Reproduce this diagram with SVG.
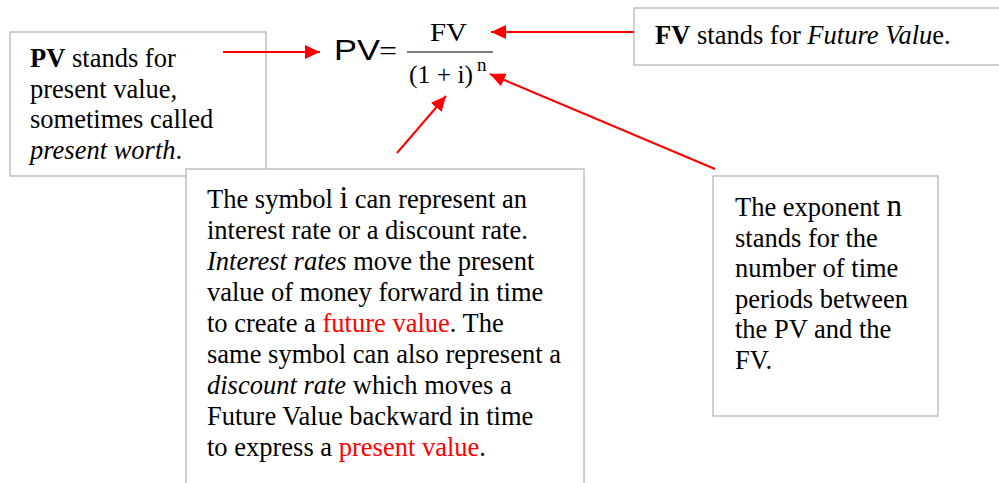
<svg xmlns="http://www.w3.org/2000/svg" width="999" height="483" viewBox="0 0 999 483">
<style>
.box{fill:#fff;stroke:#c0c0c0;stroke-width:1.5}
.t{font-family:"Liberation Serif","Times New Roman",serif;font-size:26.5px;fill:#000}
.red{fill:#ff0000}
.arr{stroke:#ff0000;stroke-width:2;fill:none;marker-end:url(#ah)}
</style>
<defs>
<marker id="ah" markerUnits="userSpaceOnUse" markerWidth="16" markerHeight="14" refX="15" refY="7" orient="auto">
<path d="M0,0 L15,7 L0,14 z" fill="#ff0000"/>
</marker>
</defs>
<rect width="999" height="483" fill="#fff"/>
<g id="pv-note">
<rect class="box" x="10" y="32" width="256" height="144"/>
<text class="t" x="30" y="67"><tspan font-weight="bold">PV</tspan> stands for</text>
<text class="t" x="30" y="97.5">present value,</text>
<text class="t" x="30" y="128">sometimes called</text>
<text class="t" x="30" y="158.5"><tspan font-style="italic">present worth</tspan>.</text>
</g>
<g id="fv-note">
<rect class="box" x="634" y="8" width="366" height="57"/>
<text class="t" x="655" y="44"><tspan font-weight="bold">FV</tspan> stands for <tspan font-style="italic">Future Valu</tspan>e.</text>
</g>
<g id="formula">
<text x="334" y="60" font-family="'Liberation Sans',Arial,sans-serif" font-size="30" textLength="46" lengthAdjust="spacingAndGlyphs">PV</text>
<text x="379" y="60" font-family="'Liberation Serif','Times New Roman',serif" font-size="28" textLength="18" lengthAdjust="spacingAndGlyphs">=</text>
<text class="t" x="430" y="41" style="font-size:26px" textLength="37" lengthAdjust="spacingAndGlyphs">FV</text>
<line x1="407" y1="52" x2="493" y2="52" stroke="#000" stroke-width="1.2"/>
<text class="t" x="409" y="83" style="font-size:26px" textLength="64" lengthAdjust="spacingAndGlyphs">(1 + i)</text>
<text class="t" x="477" y="71" style="font-size:19px">n</text>
</g>
<g id="i-note">
<rect class="box" x="186" y="169" width="398" height="330"/>
<text class="t" x="207" y="208">The symbol <tspan style="font-size:31px">i</tspan> can represent an</text>
<text class="t" x="207" y="239">interest rate or a discount rate.</text>
<text class="t" x="207" y="270"><tspan font-style="italic">Interest rates</tspan> move the present</text>
<text class="t" x="207" y="301">value of money forward in time</text>
<text class="t" x="207" y="332">to create a <tspan class="red">future value</tspan>. The</text>
<text class="t" x="207" y="363">same symbol can also represent a</text>
<text class="t" x="207" y="394"><tspan font-style="italic">discount rate</tspan> which moves a</text>
<text class="t" x="207" y="425">Future Value backward in time</text>
<text class="t" x="207" y="456">to express a <tspan class="red">present value</tspan>.</text>
</g>
<g id="n-note">
<rect class="box" x="713" y="176" width="225" height="240"/>
<text class="t" x="735" y="216">The exponent <tspan style="font-size:31px">n</tspan></text>
<text class="t" x="735" y="247">stands for the</text>
<text class="t" x="735" y="277">number of time</text>
<text class="t" x="735" y="308">periods between</text>
<text class="t" x="735" y="338">the PV and the</text>
<text class="t" x="735" y="369">FV.</text>
</g>
<g id="connectors">
<line class="arr" x1="223" y1="52" x2="320" y2="52"/>
<line class="arr" x1="634" y1="32" x2="491" y2="32"/>
<line class="arr" x1="397" y1="153" x2="446" y2="96"/>
<line class="arr" x1="715" y1="169" x2="490" y2="74"/>
</g>
</svg>
